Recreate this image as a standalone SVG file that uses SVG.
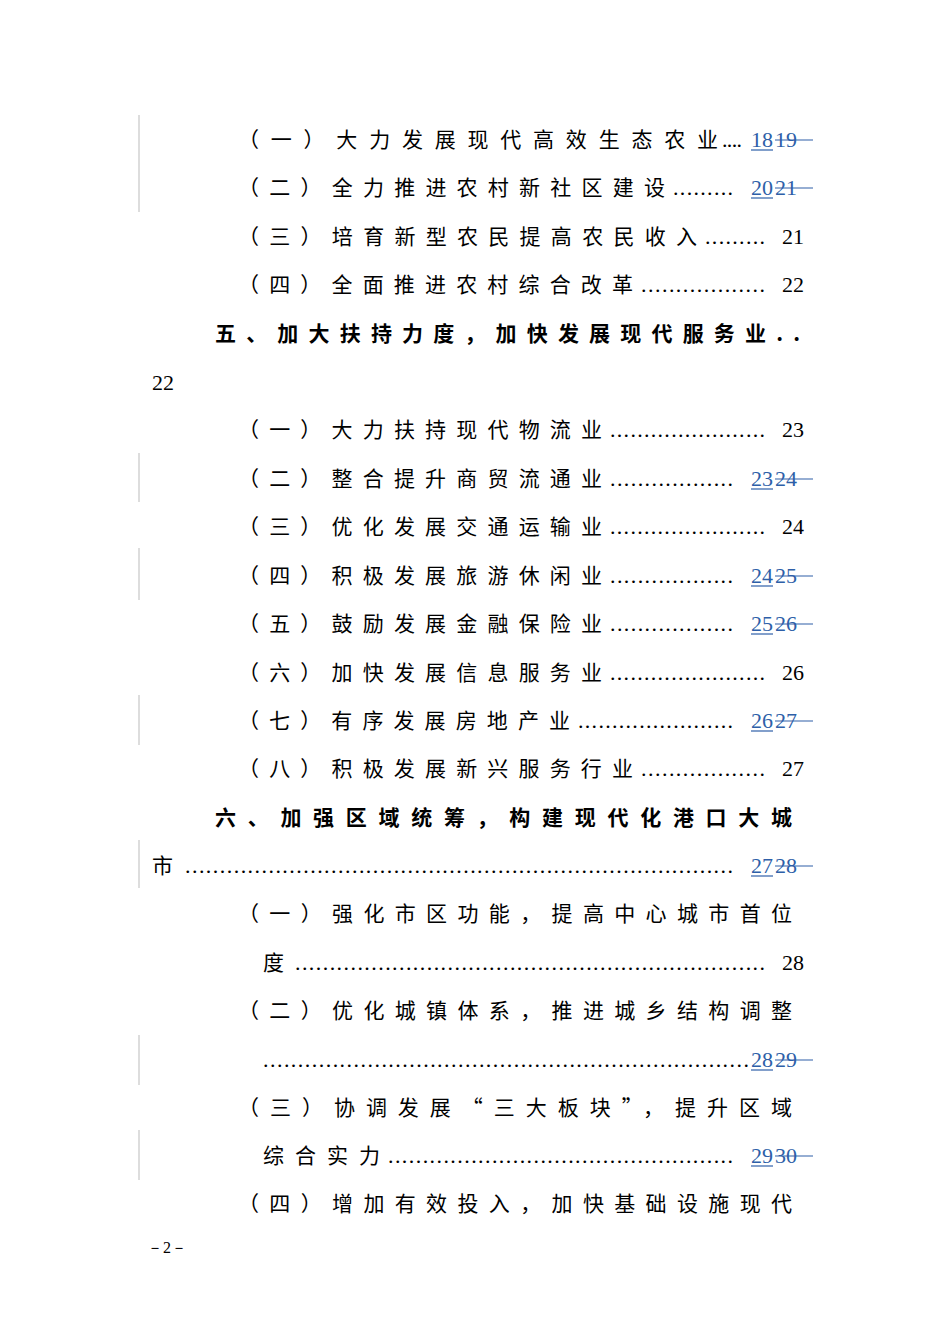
<svg xmlns="http://www.w3.org/2000/svg" width="950" height="1344" viewBox="0 0 950 1344">
<style>
.c{font-family:"Noto Sans CJK SC","Noto Sans",sans-serif;font-size:21px;fill:#000}
.b{font-weight:bold}
.d{font-family:"Liberation Serif",serif;font-size:22px;fill:#000}
.n{font-family:"Liberation Serif",serif;font-size:22px;fill:#000}
.t{font-family:"Liberation Serif",serif;font-size:22px;fill:#2E5FA8}
.u{stroke:#2E5FA8;stroke-width:1.2}
.m{stroke:#bbb;stroke-width:1}
</style>
<rect width="950" height="1344" fill="#fff"/>
<g>
<line class="m" x1="139" y1="115" x2="139" y2="212"/>
<line class="m" x1="139" y1="453" x2="139" y2="502"/>
<line class="m" x1="139" y1="548" x2="139" y2="600"/>
<line class="m" x1="139" y1="695" x2="139" y2="745"/>
<line class="m" x1="139" y1="840" x2="139" y2="888"/>
<line class="m" x1="139" y1="1035" x2="139" y2="1085"/>
<line class="m" x1="139" y1="1130" x2="139" y2="1180"/>
</g>
<g>
<text class="c" x="238" y="147" textLength="480" lengthAdjust="spacing">（一）大力发展现代高效生态农业</text>
<text class="d" x="722" y="147" textLength="20" lengthAdjust="spacing">....</text>
<text class="c" x="238" y="195" textLength="427" lengthAdjust="spacing">（二）全力推进农村新社区建设</text>
<text class="d" x="673" y="195" textLength="60" lengthAdjust="spacing">.........</text>
<text class="c" x="238" y="244" textLength="459" lengthAdjust="spacing">（三）培育新型农民提高农民收入</text>
<text class="d" x="705" y="244" textLength="60" lengthAdjust="spacing">.........</text><text class="n" x="782" y="244">21</text>
<text class="c" x="238" y="292" textLength="395" lengthAdjust="spacing">（四）全面推进农村综合改革</text>
<text class="d" x="641" y="292" textLength="124" lengthAdjust="spacing">..................</text><text class="n" x="782" y="292">22</text>
<text class="c b" x="215" y="341" textLength="585" lengthAdjust="spacing">五、加大扶持力度，加快发展现代服务业..</text>
<text class="n" x="152" y="390">22</text>
<text class="c" x="238" y="437" textLength="364" lengthAdjust="spacing">（一）大力扶持现代物流业</text>
<text class="d" x="610" y="437" textLength="155" lengthAdjust="spacing">.......................</text><text class="n" x="782" y="437">23</text>
<text class="c" x="238" y="486" textLength="364" lengthAdjust="spacing">（二）整合提升商贸流通业</text>
<text class="d" x="610" y="486" textLength="123" lengthAdjust="spacing">..................</text>
<text class="c" x="238" y="534" textLength="364" lengthAdjust="spacing">（三）优化发展交通运输业</text>
<text class="d" x="610" y="534" textLength="155" lengthAdjust="spacing">.......................</text><text class="n" x="782" y="534">24</text>
<text class="c" x="238" y="583" textLength="364" lengthAdjust="spacing">（四）积极发展旅游休闲业</text>
<text class="d" x="610" y="583" textLength="123" lengthAdjust="spacing">..................</text>
<text class="c" x="238" y="631" textLength="364" lengthAdjust="spacing">（五）鼓励发展金融保险业</text>
<text class="d" x="610" y="631" textLength="123" lengthAdjust="spacing">..................</text>
<text class="c" x="238" y="680" textLength="364" lengthAdjust="spacing">（六）加快发展信息服务业</text>
<text class="d" x="610" y="680" textLength="155" lengthAdjust="spacing">.......................</text><text class="n" x="782" y="680">26</text>
<text class="c" x="238" y="728" textLength="332" lengthAdjust="spacing">（七）有序发展房地产业</text>
<text class="d" x="578" y="728" textLength="155" lengthAdjust="spacing">.......................</text>
<text class="c" x="238" y="776" textLength="395" lengthAdjust="spacing">（八）积极发展新兴服务行业</text>
<text class="d" x="641" y="776" textLength="124" lengthAdjust="spacing">..................</text><text class="n" x="782" y="776">27</text>
<text class="c b" x="215" y="825" textLength="577" lengthAdjust="spacing">六、加强区域统筹，构建现代化港口大城</text>
<text class="c" x="152" y="873">市</text>
<text class="d" x="185" y="873" textLength="548" lengthAdjust="spacing">...............................................................................</text>
<text class="c" x="238" y="921" textLength="554" lengthAdjust="spacing">（一）强化市区功能，提高中心城市首位</text>
<text class="c" x="263" y="970">度</text>
<text class="d" x="295" y="970" textLength="470" lengthAdjust="spacing">....................................................................</text><text class="n" x="782" y="970">28</text>
<text class="c" x="238" y="1018" textLength="554" lengthAdjust="spacing">（二）优化城镇体系，推进城乡结构调整</text>
<text class="d" x="263" y="1067" textLength="486" lengthAdjust="spacing">......................................................................</text>
<text class="c" x="238" y="1115" textLength="554" lengthAdjust="spacing">（三）协调发展“三大板块”，提升区域</text>
<text class="c" x="263" y="1163" textLength="117" lengthAdjust="spacing">综合实力</text>
<text class="d" x="388" y="1163" textLength="345" lengthAdjust="spacing">..................................................</text>
<text class="c" x="238" y="1211" textLength="554" lengthAdjust="spacing">（四）增加有效投入，加快基础设施现代</text>
<text class="n" x="147" y="1253" style="font-size:16px">－2－</text>
</g>
<g>
<text class="t" x="751" y="147">18</text><text class="t" x="775" y="147">19</text><line class="u" x1="751" y1="150" x2="773" y2="150"/><line class="u" x1="775" y1="140" x2="813" y2="140"/>
<text class="t" x="751" y="195">20</text><text class="t" x="775" y="195">21</text><line class="u" x1="751" y1="198" x2="773" y2="198"/><line class="u" x1="775" y1="188" x2="813" y2="188"/>
<text class="t" x="751" y="486">23</text><text class="t" x="775" y="486">24</text><line class="u" x1="751" y1="489" x2="773" y2="489"/><line class="u" x1="775" y1="479" x2="813" y2="479"/>
<text class="t" x="751" y="583">24</text><text class="t" x="775" y="583">25</text><line class="u" x1="751" y1="586" x2="773" y2="586"/><line class="u" x1="775" y1="576" x2="813" y2="576"/>
<text class="t" x="751" y="631">25</text><text class="t" x="775" y="631">26</text><line class="u" x1="751" y1="634" x2="773" y2="634"/><line class="u" x1="775" y1="624" x2="813" y2="624"/>
<text class="t" x="751" y="728">26</text><text class="t" x="775" y="728">27</text><line class="u" x1="751" y1="731" x2="773" y2="731"/><line class="u" x1="775" y1="721" x2="813" y2="721"/>
<text class="t" x="751" y="873">27</text><text class="t" x="775" y="873">28</text><line class="u" x1="751" y1="876" x2="773" y2="876"/><line class="u" x1="775" y1="866" x2="813" y2="866"/>
<text class="t" x="751" y="1067">28</text><text class="t" x="775" y="1067">29</text><line class="u" x1="751" y1="1070" x2="773" y2="1070"/><line class="u" x1="775" y1="1060" x2="813" y2="1060"/>
<text class="t" x="751" y="1163">29</text><text class="t" x="775" y="1163">30</text><line class="u" x1="751" y1="1166" x2="773" y2="1166"/><line class="u" x1="775" y1="1156" x2="813" y2="1156"/>
</g>
</svg>
